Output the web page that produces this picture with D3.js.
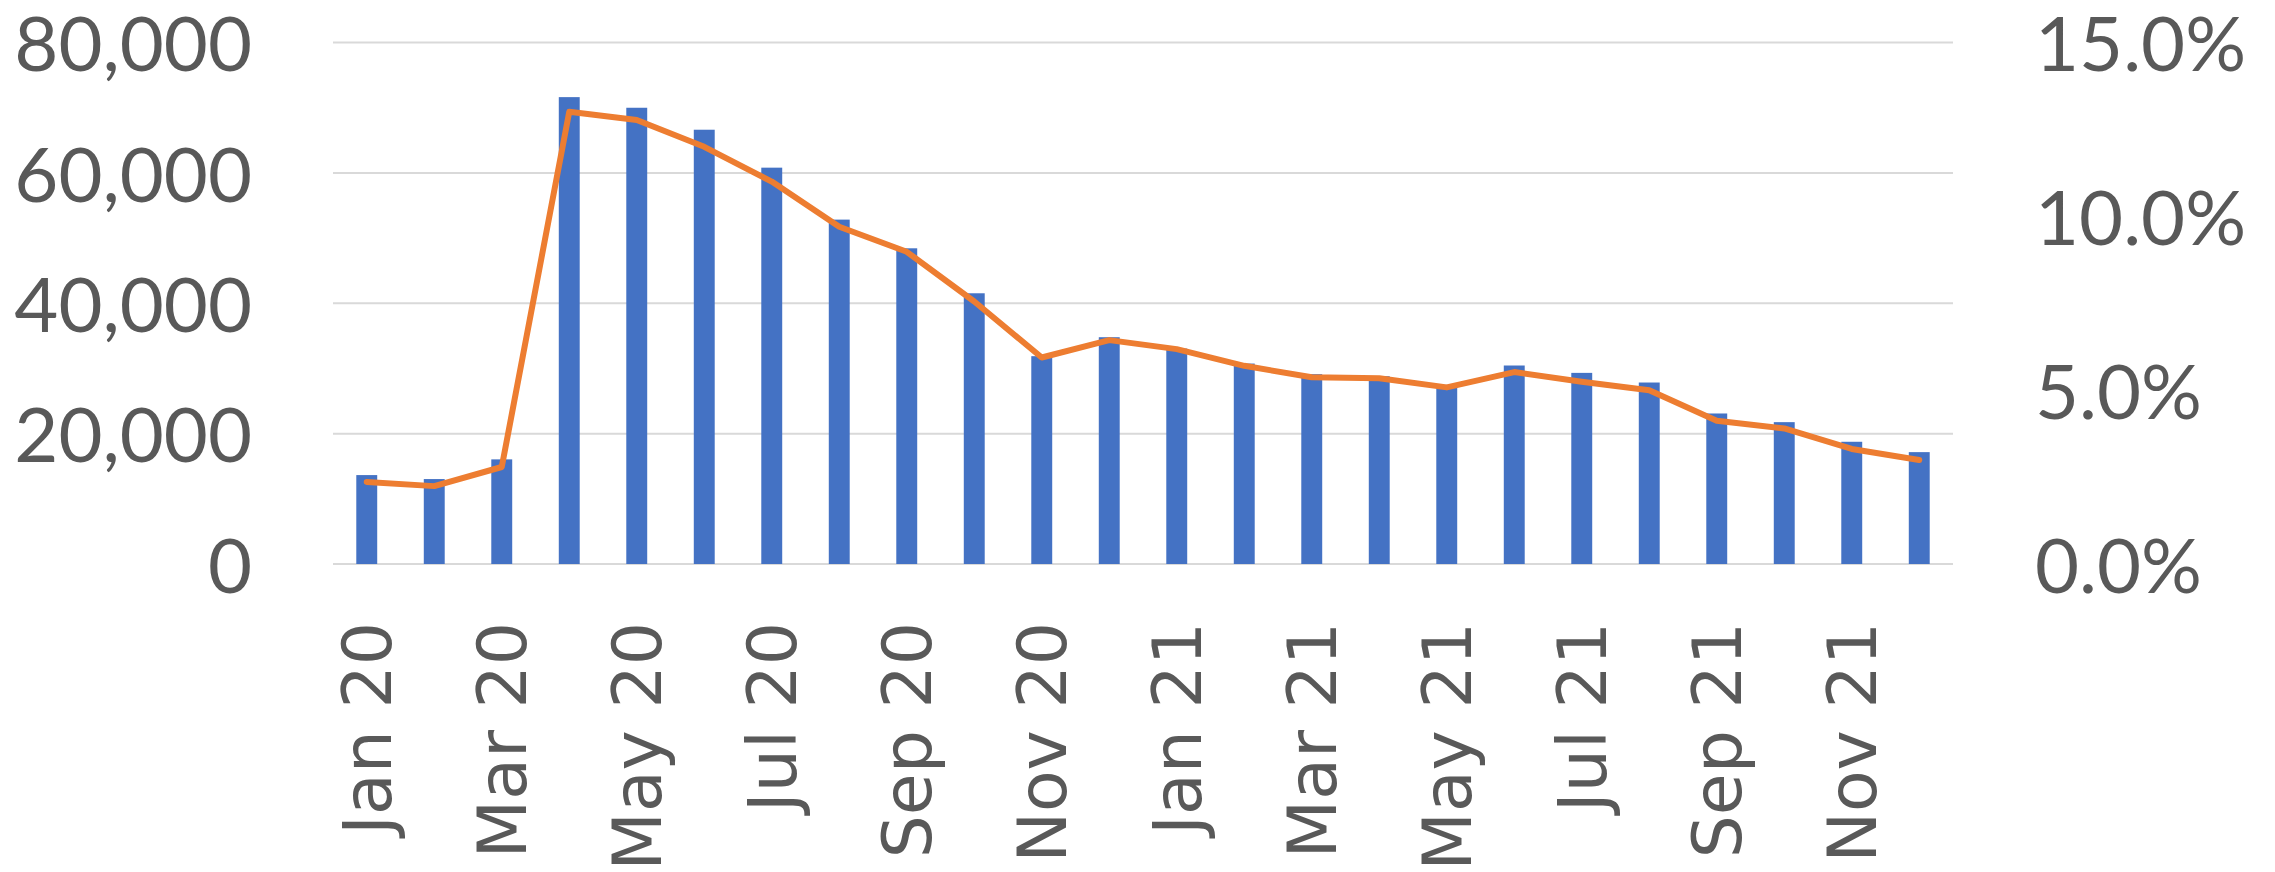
<!DOCTYPE html>
<html>
<head>
<meta charset="utf-8">
<script src="https://cdnjs.cloudflare.com/ajax/libs/d3/7.8.5/d3.min.js"></script>
<style>
  body { margin: 0; background: #fff; }
</style>
</head>
<body>
<div id="chart"></div>
<script>
var width = 2275;
var height = 872;

var plotLeft = 333;
var plotRight = 1953;
var plotTop = 42.5;
var plotBottom = 564;

var months = [
	'Jan 20', 'Feb 20', 'Mar 20', 'Apr 20', 'May 20', 'Jun 20',
	'Jul 20', 'Aug 20', 'Sep 20', 'Oct 20', 'Nov 20', 'Dec 20',
	'Jan 21', 'Feb 21', 'Mar 21', 'Apr 21', 'May 21', 'Jun 21',
	'Jul 21', 'Aug 21', 'Sep 21', 'Oct 21', 'Nov 21', 'Dec 21'
];

// monthly totals (bars, left axis)
var counts = [
	13640, 13030, 16050, 71620, 69990, 66620,
	60800, 52830, 48430, 41530, 31880, 34790,
	33050, 30750, 29120, 28810, 27480, 30450,
	29320, 27840, 23090, 21760, 18750, 17160
];

// rate (line, right axis)
var rates = [
	0.0236, 0.0224, 0.0279, 0.1301, 0.1277, 0.1200,
	0.1100, 0.0970, 0.0898, 0.0755, 0.0594, 0.0644,
	0.0618, 0.0570, 0.0537, 0.0534, 0.0508, 0.0552,
	0.0524, 0.0500, 0.0412, 0.0390, 0.0331, 0.0299
];

var leftTicks = [0, 20000, 40000, 60000, 80000];
var rightTicks = [0, 0.05, 0.10, 0.15];
var xTickLabels = ['Jan 20', 'Mar 20', 'May 20', 'Jul 20', 'Sep 20', 'Nov 20',
	'Jan 21', 'Mar 21', 'May 21', 'Jul 21', 'Sep 21', 'Nov 21'];

var textColor = '#595959';
var gridColor = '#d9d9d9';

var svg = d3.select('#chart')
	.append('svg')
	.attr('width', width)
	.attr('height', height);

var x = d3.scaleBand()
	.domain(months)
	.range([plotLeft, plotRight])
	.paddingInner(0.69)
	.paddingOuter(0.345);

var yLeft = d3.scaleLinear()
	.domain([0, 80000])
	.range([plotBottom, plotTop]);

var yRight = d3.scaleLinear()
	.domain([0, 0.15])
	.range([plotBottom, plotTop]);

var chart = {};

chart.drawGrid = function(){
	svg.append('g')
		.selectAll('line')
		.data(leftTicks)
		.enter()
		.append('line')
		.attr('x1', plotLeft)
		.attr('x2', plotRight)
		.attr('y1', function(d){ return yLeft(d); })
		.attr('y2', function(d){ return yLeft(d); })
		.attr('stroke', gridColor)
		.attr('stroke-width', 2);
};

chart.drawAxes = function(){
	var left = svg.append('g')
		.attr('transform', 'translate(252,0)')
		.call(d3.axisLeft(yLeft)
			.tickValues(leftTicks)
			.tickFormat(d3.format(','))
			.tickSize(0)
			.tickPadding(0));

	var right = svg.append('g')
		.attr('transform', 'translate(2035,0)')
		.call(d3.axisRight(yRight)
			.tickValues(rightTicks)
			.tickFormat(d3.format('.1%'))
			.tickSize(0)
			.tickPadding(0));

	var bottom = svg.append('g')
		.attr('transform', 'translate(0,' + plotBottom + ')')
		.call(d3.axisBottom(x)
			.tickValues(xTickLabels)
			.tickSize(0)
			.tickPadding(0));

	[left, right, bottom].forEach(function(g){
		g.select('.domain').remove();
		g.selectAll('text')
			.attr('fill', textColor);
	});

	// Calibri-like look, slightly smaller box so the top label stays on the page
	left.selectAll('text')
		.style('font-family', 'Lato, "Open Sans", sans-serif')
		.style('font-size', '76px')
		.attr('dy', '0.37em');

	right.selectAll('text')
		.style('font-family', 'Lato, "Open Sans", sans-serif')
		.style('font-size', '76px')
		.attr('dy', '0.37em');

	bottom.selectAll('text')
		.style('font-family', '"DejaVu Sans", sans-serif')
		.style('font-size', '68px')
		.attr('text-anchor', 'end')
		.attr('y', 0)
		.attr('dy', '0.36em')
		.attr('transform', 'translate(0,58) rotate(-90)');
};

chart.drawBars = function(){
	svg.append('g')
		.selectAll('rect')
		.data(counts)
		.enter()
		.append('rect')
		.attr('x', function(d, i){ return x(months[i]); })
		.attr('y', function(d){ return yLeft(d); })
		.attr('width', x.bandwidth())
		.attr('height', function(d){ return plotBottom - yLeft(d); })
		.attr('fill', '#4472c4');
};

chart.drawLine = function(){
	var line = d3.line()
		.x(function(d, i){ return x(months[i]) + x.bandwidth() / 2; })
		.y(function(d){ return yRight(d); });

	svg.append('path')
		.datum(rates)
		.attr('d', line)
		.attr('fill', 'none')
		.attr('stroke', '#ed7d31')
		.attr('stroke-width', 6)
		.attr('stroke-linejoin', 'round')
		.attr('stroke-linecap', 'round');
};

chart.drawGrid();
chart.drawBars();
chart.drawLine();
chart.drawAxes();
</script>
</body>
</html>
